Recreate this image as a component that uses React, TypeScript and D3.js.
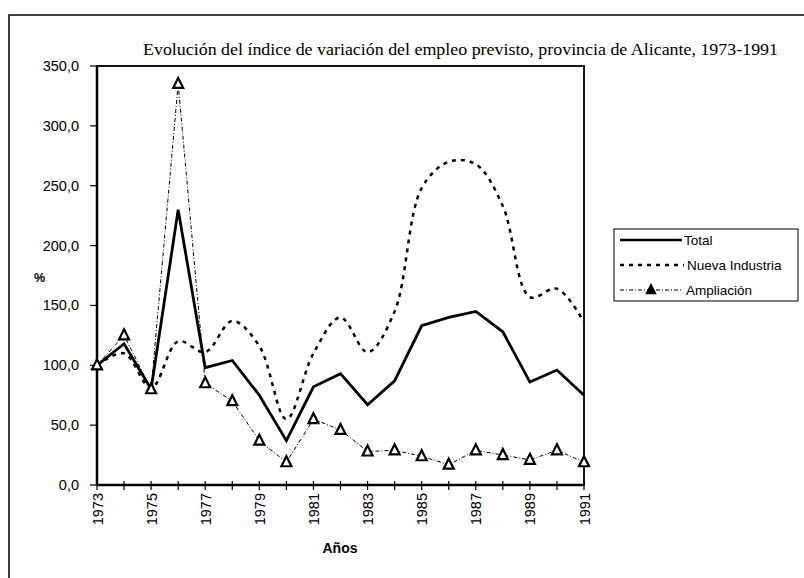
import React from "react";
import * as d3 from "d3";

const years = [1973,1974,1975,1976,1977,1978,1979,1980,1981,1982,1983,1984,1985,1986,1987,1988,1989,1990,1991];
const total = [100,118,80,230,98,104,75,37,82,93,67,87,133,140,145,128,86,96,75];
const nuevaIndustria = [100,110,81,120,111,137,116,55,110,140,111,145,248,270,268,233,157,164,136];
const ampliacion = [100,125,80,335,85,70,37,19,55,46,28,29,24,17,29,25,21,29,19];
const yTicks = [0,50,100,150,200,250,300,350];
const xLabelYears = [1973,1975,1977,1979,1981,1983,1985,1987,1989,1991];

const title = "Evolución del índice de variación del empleo previsto, provincia de Alicante, 1973-1991";

export default function App() {
  const W = 804, H = 578;
  const L = 97, R = 584, T = 66, B = 485;
  const x = d3.scaleLinear().domain([1973, 1991]).range([L, R]);
  const y = d3.scaleLinear().domain([0, 350]).range([B, T]);
  const fmt = (v: number) => v.toFixed(1).replace(".", ",");

  const lineStraight = d3.line<number>().x((_, i) => x(years[i])).y(d => y(d));
  const lineSmooth = d3.line<number>().x((_, i) => x(years[i])).y(d => y(d)).curve(d3.curveCatmullRom.alpha(0.5));

  const tri = (cx: number, cy: number, s: number) =>
    `M${cx},${cy - s * 0.6} L${cx + s / 2},${cy + s * 0.4} L${cx - s / 2},${cy + s * 0.4} Z`;

  const sans = "Arial, 'Liberation Sans', sans-serif";
  const serif = "'Times New Roman', 'Liberation Serif', serif";

  return (
    <svg width={W} height={H} style={{ position: "absolute", left: 0, top: 0, background: "#fff" }}>
      <rect x={0} y={0} width={W} height={H} fill="#fff" />
      {/* outer border */}
      <path d={`M9,${H} L9,15 L${W},15`} fill="none" stroke="#000" strokeWidth={1.5} />

      {/* title */}
      <text x={143} y={55} fontFamily={serif} fontSize={17.5} textLength={635} lengthAdjust="spacingAndGlyphs">{title}</text>

      {/* plot frame */}
      <rect x={L} y={T} width={R - L} height={B - T} fill="none" stroke="#000" strokeWidth={1.8} />
      <line x1={L} y1={T} x2={L} y2={B} stroke="#000" strokeWidth={2.5} />
      <line x1={L} y1={B} x2={R} y2={B} stroke="#000" strokeWidth={2.5} />

      {/* y ticks */}
      {yTicks.map(t => (
        <g key={t}>
          <line x1={L - 7} x2={L} y1={y(t)} y2={y(t)} stroke="#000" strokeWidth={1.2} />
          <text x={79} y={y(t) + 5} textAnchor="end" fontFamily={sans} fontSize={14.5}>{fmt(t)}</text>
        </g>
      ))}
      <text x={34} y={282} fontFamily={sans} fontSize={12.5} fontWeight="bold">%</text>

      {/* x ticks */}
      {years.map(yr => (
        <line key={yr} x1={x(yr)} x2={x(yr)} y1={B - 4} y2={B + 5} stroke="#000" strokeWidth={1.2} />
      ))}
      {xLabelYears.map(yr => (
        <text key={yr} transform={`translate(${x(yr) + 5.5},${B + 8}) rotate(-90)`} textAnchor="end" fontFamily={sans} fontSize={14.5}>{yr}</text>
      ))}
      <text x={340} y={553} textAnchor="middle" fontFamily={sans} fontSize={14} fontWeight="bold">Años</text>

      {/* series */}
      <path d={lineSmooth(nuevaIndustria) || ""} fill="none" stroke="#000" strokeWidth={2.5} strokeDasharray="4,5" />
      <path d={lineStraight(ampliacion) || ""} fill="none" stroke="#000" strokeWidth={1} strokeDasharray="4,2,1,2" />
      <path d={lineStraight(total) || ""} fill="none" stroke="#000" strokeWidth={2.8} strokeLinejoin="miter" />
      {ampliacion.map((v, i) => (
        <path key={i} d={tri(x(years[i]), y(v), 10)} fill="#fff" stroke="#000" strokeWidth={2.2} />
      ))}

      {/* legend */}
      <rect x={614} y={229} width={184} height={72} fill="#fff" stroke="#000" strokeWidth={1} />
      <line x1={620} x2={682} y1={240} y2={240} stroke="#000" strokeWidth={2.5} />
      <text x={684} y={245} fontFamily={sans} fontSize={13.5}>Total</text>
      <line x1={620} x2={684} y1={265} y2={265} stroke="#000" strokeWidth={2.5} strokeDasharray="4,5" />
      <text x={687} y={270} fontFamily={sans} fontSize={13.5}>Nueva Industria</text>
      <line x1={620} x2={682} y1={290} y2={290} stroke="#000" strokeWidth={1} strokeDasharray="4,2,1,2" />
      <path d={tri(651, 290, 9)} fill="#000" stroke="#000" strokeWidth={1.5} />
      <text x={686} y={295} fontFamily={sans} fontSize={13.5}>Ampliación</text>
    </svg>
  );
}
